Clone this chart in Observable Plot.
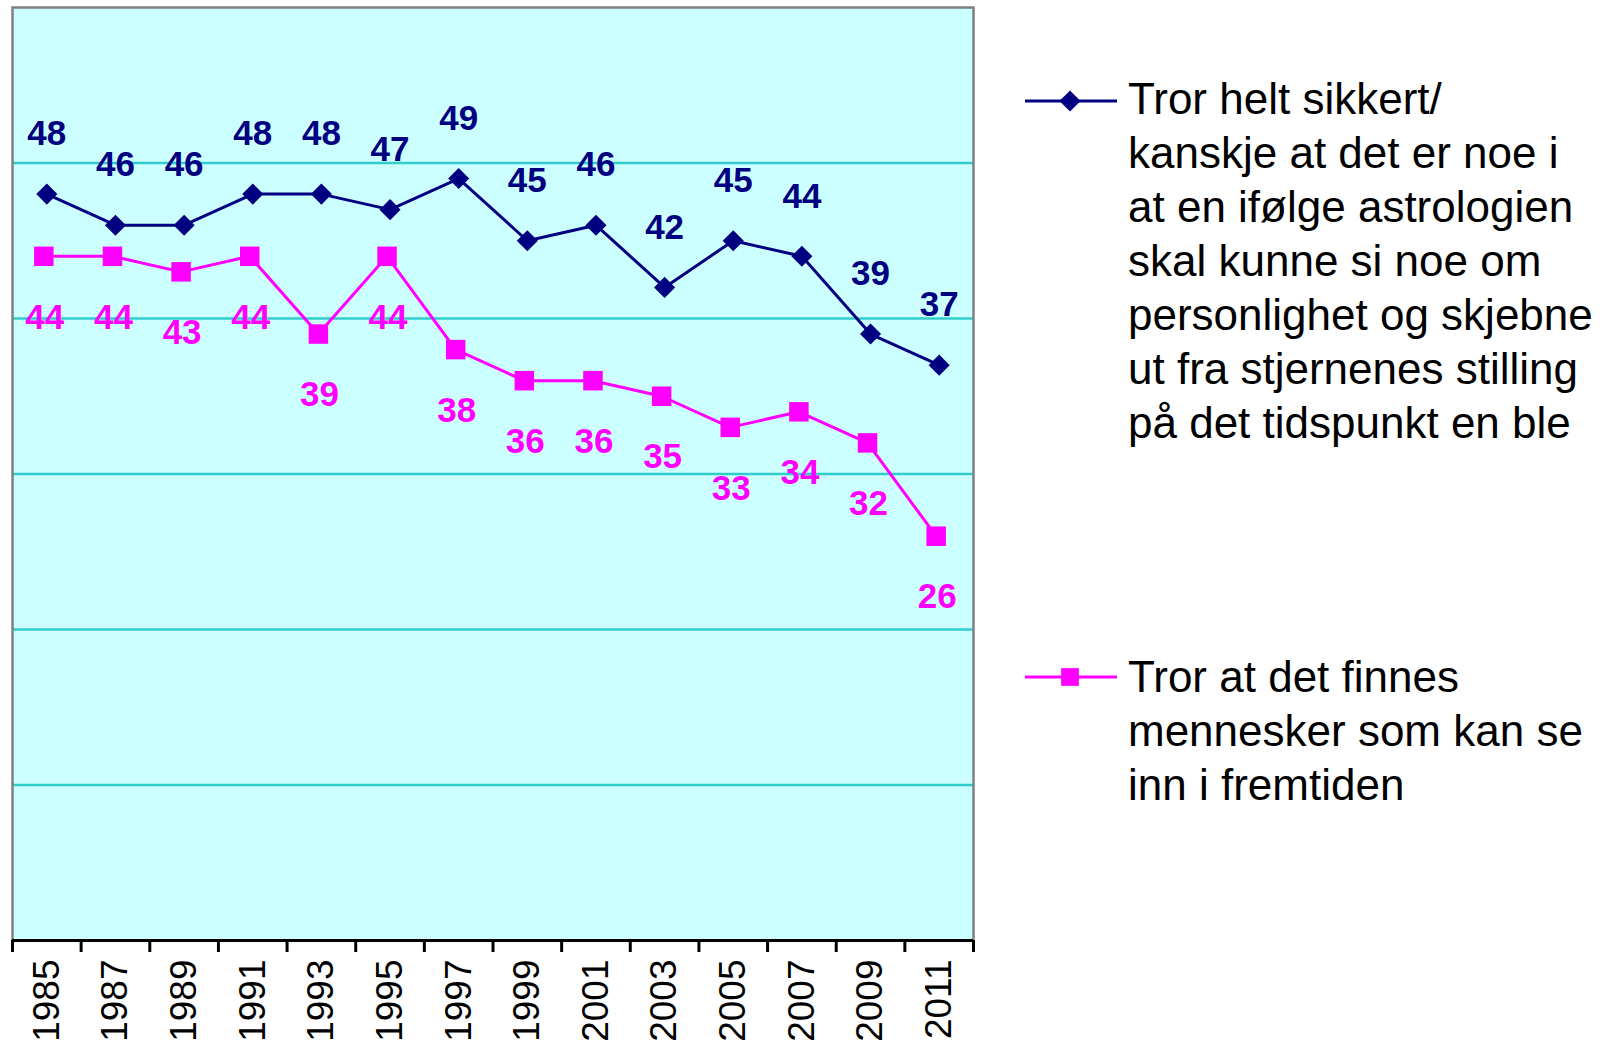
<!DOCTYPE html>
<html><head><meta charset="utf-8">
<script src="https://cdn.jsdelivr.net/npm/d3@7"></script>
<script src="https://cdn.jsdelivr.net/npm/@observablehq/plot@0.6"></script>
<style>
body{margin:0;background:#fff;font-family:"Liberation Sans",Arial,sans-serif;}
#wrap{position:relative;width:1603px;height:1045px;overflow:hidden;}
#chart{position:absolute;left:0;top:0;}
.item{position:absolute;left:1025px;}
.item svg{position:absolute;left:0;}
.item .txt{position:absolute;left:103px;font-size:44px;line-height:54px;white-space:nowrap;color:#000;}
</style></head>
<body><div id="wrap"><div id="chart"></div><div id="legend"></div></div>
<script>
const years = ["1985","1987","1989","1991","1993","1995","1997","1999","2001","2003","2005","2007","2009","2011"];
const astrologi = [48,46,46,48,48,47,49,45,46,42,45,44,39,37];
const fremtid = [44,44,43,44,39,44,38,36,36,35,33,34,32,26];
const seriesLines = [
  ["Tror helt sikkert/","kanskje at det er noe i","at en ifølge astrologien","skal kunne si noe om","personlighet og skjebne","ut fra stjernenes stilling","på det tidspunkt en ble"],
  ["Tror at det finnes","mennesker som kan se","inn i fremtiden"]
];
const colors = ["#000080","#FF00FF"];
const symbols = ["diamond2","square"];
const gridTicks = [10,20,30,40,50];
const yDomain = [0,60];

const rowsA = years.map((y,i)=>({i, year:y, value:astrologi[i]}));
const rowsB = years.map((y,i)=>({i, year:y, value:fremtid[i]}));
const font = '"Liberation Sans", Arial, sans-serif';

const chart = Plot.plot({
  width: 980, height: 1045,
  marginLeft: 12, marginRight: 7, marginTop: 7, marginBottom: 105,
  x: {domain: [0, years.length], axis: null},
  y: {domain: yDomain, axis: null},
  style: {fontFamily: font, background: "transparent", overflow: "visible"},
  marks: [
    Plot.frame({fill: "#CCFFFF", stroke: null}),
    Plot.gridY(gridTicks, {stroke: "#33CCCC", strokeOpacity: 1, strokeWidth: 2.5}),
    Plot.frame({stroke: "#808080", strokeWidth: 2.5}),
    Plot.ruleY([0], {stroke: "#000", strokeWidth: 3}),
    Plot.axisX(d3.range(years.length + 1), {tickSize: 12, tickFormat: () => "", stroke: "#000", strokeWidth: 3, label: null}),
    Plot.axisX(years.map((_, i) => i + 0.5), {tickSize: 0, tickPadding: 19, tickRotate: -90, tickFormat: v => years[Math.floor(v)], fontSize: 37, fill: "#000", label: null}),
    Plot.line(rowsA, {x: d => d.i + 0.5, y: "value", stroke: colors[0], strokeWidth: 3}),
    Plot.line(rowsB, {x: d => d.i + 0.5, y: "value", stroke: colors[1], strokeWidth: 3, dx: -3}),
    Plot.dot(rowsA, {x: d => d.i + 0.5, y: "value", symbol: symbols[0], r: 9.5, fill: colors[0], stroke: null}),
    Plot.dot(rowsB, {x: d => d.i + 0.5, y: "value", symbol: symbols[1], r: 11, fill: colors[1], stroke: null, dx: -3}),
    Plot.text(rowsA, {x: d => d.i + 0.5, y: "value", text: d => String(d.value), dy: -60, fill: colors[0], fontSize: 35, fontWeight: "bold", lineAnchor: "middle"}),
    Plot.text(rowsB, {x: d => d.i + 0.5, y: "value", text: d => String(d.value), dy: 61, dx: -2, fill: colors[1], fontSize: 35, fontWeight: "bold", lineAnchor: "middle"})
  ]
});
document.getElementById("chart").appendChild(chart);

// legend
const legendTops = [72, 650];
const sampleCenters = [101, 677];
const legend = document.getElementById("legend");
seriesLines.forEach((lines, k) => {
  const item = document.createElement("div");
  item.className = "item";
  item.style.top = "0px";
  const svgNS = "http://www.w3.org/2000/svg";
  const svg = document.createElementNS(svgNS, "svg");
  svg.setAttribute("width", 92); svg.setAttribute("height", 30);
  svg.style.top = (sampleCenters[k] - 15) + "px";
  const ln = document.createElementNS(svgNS, "line");
  ln.setAttribute("x1", 0); ln.setAttribute("x2", 92); ln.setAttribute("y1", 15); ln.setAttribute("y2", 15);
  ln.setAttribute("stroke", colors[k]); ln.setAttribute("stroke-width", 3);
  svg.appendChild(ln);
  const p = document.createElementNS(svgNS, "path");
  const sym = k === 0 ? d3.symbolDiamond2 : d3.symbolSquare;
  const size = k === 0 ? Math.PI * 9.5 * 9.5 : Math.PI * 10 * 10;
  p.setAttribute("d", d3.symbol(sym, size)());
  p.setAttribute("transform", "translate(45,15)");
  p.setAttribute("fill", colors[k]);
  svg.appendChild(p);
  item.appendChild(svg);
  const t = document.createElement("div");
  t.className = "txt";
  t.style.top = legendTops[k] + "px";
  t.innerHTML = lines.join("<br>");
  item.appendChild(t);
  legend.appendChild(item);
});
</script>
</body></html>
